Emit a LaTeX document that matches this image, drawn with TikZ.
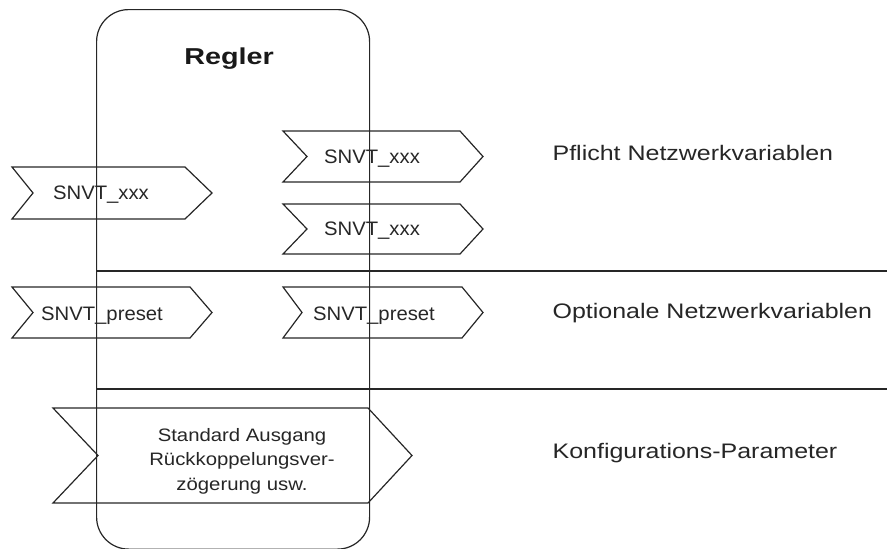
\documentclass[tikz,border=0pt]{standalone}
\usepackage{fontspec}
\setmainfont{Liberation Sans}
\newfontfamily\lblfont[FakeStretch=1.19]{Liberation Sans}
\newfontfamily\snvtfont[FakeStretch=1.04]{Liberation Sans}
\newfontfamily\stdfont[FakeStretch=1.13]{Liberation Sans}
\newfontfamily\titlefont[FakeStretch=1.25]{Liberation Sans}
\newcommand\signalarrow[6]{%
  \draw[chev] (#1,#3) -- (#2,#3) -- ({#2+#6},{(#3+#4)/2}) -- (#2,#4) -- (#1,#4) -- ({#1+#5},{(#3+#4)/2}) -- cycle;}
\begin{document}
\begin{tikzpicture}[x=1pt,y=-1pt,line width=1.2pt,
  chev/.style={draw=black!85,line join=miter},
  snvt/.style={font=\snvtfont\fontsize{19.5}{22}\selectfont,anchor=base,inner sep=0pt,text=black!85},
  lbl/.style={font=\lblfont\fontsize{21}{24}\selectfont,anchor=base west,inner sep=0pt,text=black!85},
  sep/.style={draw=black!85}]
\useasboundingbox (0,0) rectangle (887,549);
% Regler box
\node[draw=black!85,rounded corners=32pt,minimum width=273pt,minimum height=539.5pt,anchor=north west,inner sep=0pt] (regler) at (96,9) {};
\node[font=\titlefont\bfseries\fontsize{23}{27}\selectfont,anchor=base,inner sep=0pt,text=black!90] (title) at (229,64) {Regler};
% separators
\coordinate (s1) at (887,271);
\coordinate (s2) at (887,389);
\draw[sep] (regler.west |- s1) -- (s1);
\draw[sep] (regler.west |- s2) -- (s2);
% chevrons
\signalarrow{12}{185}{167}{219}{21}{27}
\signalarrow{283}{460}{131}{182}{24}{23}
\signalarrow{283}{460}{204}{254}{24}{23}
\signalarrow{12}{190}{287}{338}{21}{22}
\signalarrow{283}{462}{287}{338}{19}{21}
\signalarrow{53}{368}{408}{503}{45}{44}
% texts
\node[snvt] (x1) at (101,199) {SNVT\_xxx};
\node[snvt] (x2) at (372,163) {SNVT\_xxx};
\node[snvt] (x3) at (372,235) {SNVT\_xxx};
\node[snvt] (p1) at (102,320) {SNVT\_preset};
\node[snvt] (p2) at (374,320) {SNVT\_preset};
\node[font=\stdfont\fontsize{18}{24.5}\selectfont,align=center,inner sep=0pt,text=black!85] (std) at (242,461) {Standard Ausgang\\R\"uckkoppelungsver-\\z\"ogerung usw.};
\node[lbl] (l1) at (552,160) {Pflicht Netzwerkvariablen};
\node[lbl] (l2) at (552,318) {Optionale Netzwerkvariablen};
\node[lbl] (l3) at (552,458) {Konfigurations-Parameter};
\end{tikzpicture}
\end{document}
